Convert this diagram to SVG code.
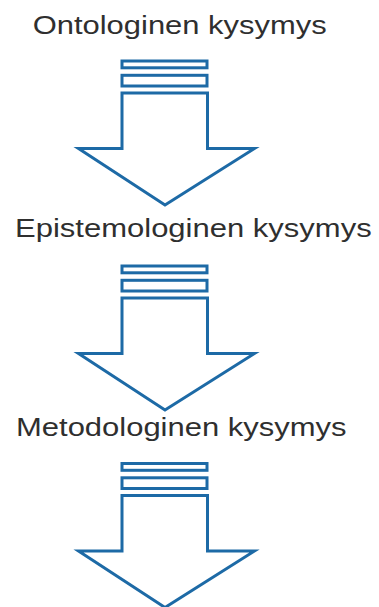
<svg xmlns="http://www.w3.org/2000/svg" xmlns:xlink="http://www.w3.org/1999/xlink" width="379" height="607" viewBox="0 0 379 607">
  <style>
    .label { font-family: "Liberation Sans", Arial, sans-serif; font-size: 26px; fill: #2f2f2f; }
    .arrow { fill: #ffffff; stroke: #1d6aa6; stroke-width: 3; stroke-linejoin: miter; }
  </style>
  <defs>
    <!-- striped block arrow pointing down -->
    <g id="blockArrow" class="arrow">
      <rect x="122" y="61" width="85" height="6.8"/>
      <rect x="122" y="75.3" width="85" height="10.7"/>
      <polygon points="122,93 207.5,93 207.5,148.5 254.5,148.5 165,205 78.5,148.5 122,148.5"/>
    </g>
  </defs>

  <g id="ontologinen">
    <text class="label" x="32.7" y="33.5" textLength="294" lengthAdjust="spacingAndGlyphs">Ontologinen kysymys</text>
  </g>
  <g id="epistemologinen">
    <text class="label" x="15" y="237" textLength="356.7" lengthAdjust="spacingAndGlyphs">Epistemologinen kysymys</text>
  </g>
  <g id="metodologinen">
    <text class="label" x="16" y="436" textLength="330.5" lengthAdjust="spacingAndGlyphs">Metodologinen kysymys</text>
  </g>

  <g id="connectors">
    <use xlink:href="#blockArrow" href="#blockArrow"/>
    <use xlink:href="#blockArrow" href="#blockArrow" transform="translate(0,205)"/>
    <use xlink:href="#blockArrow" href="#blockArrow" transform="translate(0,402.5)"/>
  </g>
</svg>
